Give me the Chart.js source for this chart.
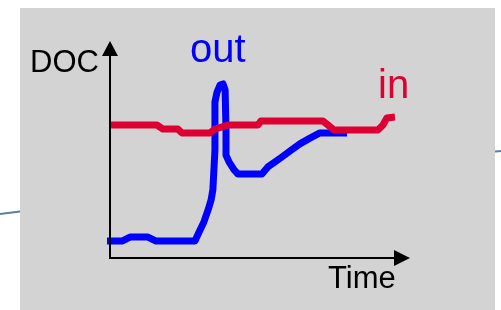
<!DOCTYPE html>
<html>
<head>
<meta charset="utf-8">
<script src="https://cdn.jsdelivr.net/npm/chart.js@4/dist/chart.umd.min.js"></script>
<style>
  html, body { margin: 0; padding: 0; background: #fff; }
  canvas { display: block; }
</style>
</head>
<body>
<canvas id="grafica" width="501" height="310"></canvas>
<script>
// values (time 0..100, DOC 0..100)
const inTime = [0.3, 15.7, 17.7, 22.7, 24.1, 33.4, 35.1, 39.5, 49.5, 50.5, 71.2, 72.9, 74.9, 89.6, 91.3, 92.6, 95.3];
const inDoc  = [61.4, 61.4, 59.5, 59.5, 57.7, 57.7, 59.5, 61.4, 61.4, 63.3, 63.3, 61.4, 59.1, 59.1, 61.4, 64.7, 65.1];

const outTime = [-1.0, 4.0, 6.7, 12.7, 15.4, 28.4, 29.8, 31.4, 32.8, 33.8, 34.4, 35.1, 35.1, 35.8, 36.8, 37.8, 38.5, 38.8, 38.8, 39.8, 41.5, 42.8, 50.8, 52.8, 55.2, 57.5, 60.2, 63.5, 66.9, 70.2, 72.9, 79.3];
const outDoc  = [7.4, 7.4, 9.3, 9.3, 7.4, 7.4, 11.6, 16.3, 21.9, 26.5, 31.2, 49.8, 72.1, 76.7, 80.0, 80.5, 77.7, 59.1, 47.4, 44.2, 40.5, 38.6, 38.6, 41.9, 44.2, 46.5, 49.3, 52.6, 55.3, 57.7, 57.7, 57.7];

const labels = [
  { text: 'DOC',  x: 30,  y: 72, size: 31, color: '#000000' },
  { text: 'out',  x: 190, y: 62, size: 40, color: '#0000ff' },
  { text: 'in',   x: 378, y: 98, size: 40, color: '#dd0033' },
  { text: 'Time', x: 328, y: 288, size: 31, color: '#000000' }
];

const toPoints = (xs, ys) => xs.map((x, i) => ({ x: x, y: ys[i] }));

const fondo = {
  id: 'fondo',
  beforeDraw(chart) {
    const ctx = chart.ctx;
    ctx.save();
    ctx.fillStyle = '#ffffff';
    ctx.fillRect(0, 0, chart.width, chart.height);
    // bits of the slide's swoosh peeking out at the edges
    ctx.strokeStyle = '#5a7f9c';
    ctx.lineWidth = 2;
    ctx.beginPath();
    ctx.moveTo(0, 214);
    ctx.lineTo(24, 211);
    ctx.stroke();
    ctx.beginPath();
    ctx.moveTo(490, 152);
    ctx.lineTo(501, 151);
    ctx.stroke();
    ctx.fillStyle = '#d3d3d3';
    ctx.fillRect(20, 8, 475, 302);
    ctx.restore();
  }
};

const ejes = {
  id: 'ejes',
  afterDatasetsDraw(chart) {
    const ctx = chart.ctx;
    const xs = chart.scales.x, ys = chart.scales.y;
    const x0 = xs.getPixelForValue(0), y0 = ys.getPixelForValue(0);
    const xEnd = xs.getPixelForValue(100), yEnd = ys.getPixelForValue(100);
    ctx.save();
    ctx.strokeStyle = '#000';
    ctx.fillStyle = '#000';
    ctx.lineWidth = 2;
    ctx.beginPath();
    ctx.moveTo(x0, yEnd + 12);
    ctx.lineTo(x0, y0 + 1);
    ctx.lineTo(xEnd - 14, y0 + 1);
    ctx.stroke();
    // arrow heads
    ctx.beginPath();
    ctx.moveTo(x0, yEnd - 1);
    ctx.lineTo(x0 - 8, yEnd + 14);
    ctx.lineTo(x0 + 8, yEnd + 14);
    ctx.closePath();
    ctx.fill();
    ctx.beginPath();
    ctx.moveTo(xEnd + 1, y0 + 1);
    ctx.lineTo(xEnd - 15, y0 - 7);
    ctx.lineTo(xEnd - 15, y0 + 9);
    ctx.closePath();
    ctx.fill();

    labels.forEach(l => {
      ctx.font = l.size + 'px "Liberation Sans", Arial, sans-serif';
      ctx.fillStyle = l.color;
      ctx.textBaseline = 'alphabetic';
      ctx.fillText(l.text, l.x, l.y);
    });
    ctx.restore();
  }
};

const ctx = document.getElementById('grafica').getContext('2d');
new Chart(ctx, {
  type: 'scatter',
  data: {
    datasets: [{
      label: 'in',
      data: toPoints(inTime, inDoc),
      showLine: true,
      borderColor: '#dd0033',
      borderWidth: 7,
      borderJoinStyle: 'round',
      pointRadius: 0,
      tension: 0,
      clip: false
    }, {
      label: 'out',
      data: toPoints(outTime, outDoc),
      showLine: true,
      borderColor: '#0000ff',
      borderWidth: 7,
      borderJoinStyle: 'round',
      pointRadius: 0,
      tension: 0,
      clip: false
    }]
  },
  options: {
    responsive: false,
    animation: false,
    devicePixelRatio: 1,
    layout: { padding: { left: 110, right: 92, top: 42, bottom: 53 } },
    plugins: { legend: { display: false }, tooltip: { enabled: false } },
    scales: {
      x: { type: 'linear', min: 0, max: 100, display: false },
      y: { type: 'linear', min: 0, max: 100, display: false }
    }
  },
  plugins: [fondo, ejes]
});
</script>
</body>
</html>
